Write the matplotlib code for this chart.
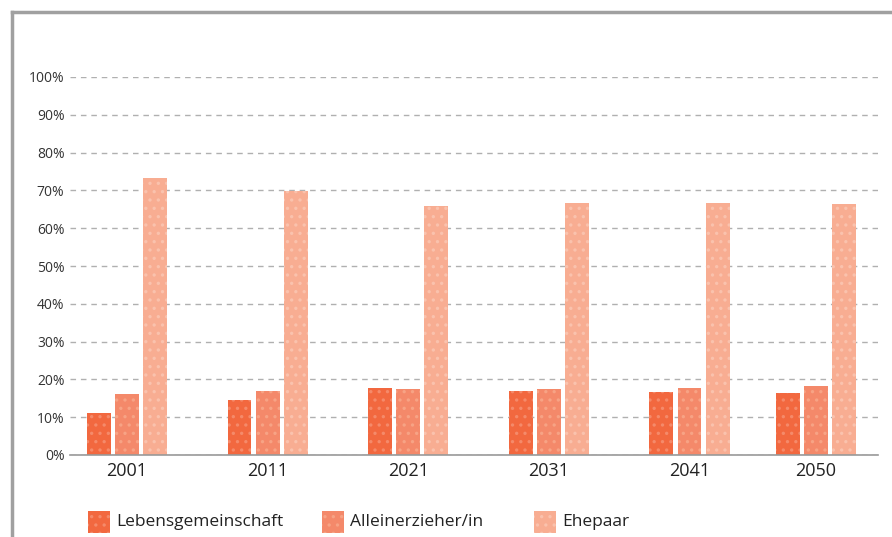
import numpy as np
import matplotlib.pyplot as plt
from matplotlib.patches import Rectangle
from matplotlib.lines import Line2D

plt.rcParams['font.family'] = ['Open Sans', 'DejaVu Sans']
plt.rcParams['hatch.linewidth'] = 1.2

years = [2001, 2011, 2021, 2031, 2041, 2050]
series = ['Lebensgemeinschaft', 'Alleinerzieher/in', 'Ehepaar']
lebensgemeinschaft = [11.2, 14.5, 17.7, 16.9, 16.7, 16.4]
alleinerzieher = [16.2, 17.0, 17.5, 17.5, 17.7, 18.3]
ehepaar = [73.3, 69.8, 65.9, 66.7, 66.7, 66.4]

colors = ['#f2683f', '#f4896a', '#f8ad92']
dots = ['#f58a6a', '#f7a385', '#fac2ad']

W, H = 892, 537
fig = plt.figure(figsize=(W / 100, H / 100), dpi=100)
ax = fig.add_axes([70 / W, 1 - 455 / H, (878 - 70) / W, (455 - 77) / H])

x = np.array(years, dtype=float)
offsets = [-2.0, 0.0, 2.0]
for vals, off, c, d in zip([lebensgemeinschaft, alleinerzieher, ehepaar], offsets, colors, dots):
    ax.bar(x + off, vals, width=1.7, color=c, edgecolor=d, linewidth=0, hatch='..', zorder=3)

ax.set_xlim(1996.95, 2054.4)
ax.set_ylim(0, 100)
ax.set_yticks(np.arange(0, 101, 10))
ax.set_yticklabels([f'{v}%' for v in range(0, 101, 10)])
ax.set_xticks(years)
ax.set_xticklabels([str(y) for y in years])
ax.tick_params(axis='y', length=0, pad=4, labelsize=10, labelcolor='#333333')
ax.tick_params(axis='x', length=0, pad=5, labelsize=13, labelcolor='#222222')
ax.grid(axis='y', color='#b0b0b0', linestyle=(0, (4, 3.5)), linewidth=1, zorder=0)
ax.set_axisbelow(True)
for s in ['top', 'right', 'left']:
    ax.spines[s].set_visible(False)
ax.spines['bottom'].set_color('#999999')
ax.spines['bottom'].set_linewidth(1.2)
ax.spines['bottom'].set_zorder(4)

# outer frame (open to the right and bottom)
fig.add_artist(Line2D([12 / W, 12 / W], [0, 1 - 12 / H], color='#a0a0a0', lw=2.5,
                      transform=fig.transFigure))
fig.add_artist(Line2D([12 / W, 1], [1 - 12 / H, 1 - 12 / H], color='#a0a0a0', lw=2.5,
                      transform=fig.transFigure))

# legend
leg_x = [88, 322, 534]
for lx, name, c, d in zip(leg_x, series, colors, dots):
    fig.add_artist(Rectangle((lx / W, 1 - 533 / H), 22 / W, 22 / H, facecolor=c,
                             edgecolor=d, linewidth=0, hatch='..', transform=fig.transFigure))
    fig.text((lx + 28) / W, 1 - 522 / H, name, fontsize=12.5, color='#222222',
             va='center', ha='left')

fig.savefig('out.png', dpi=100)
